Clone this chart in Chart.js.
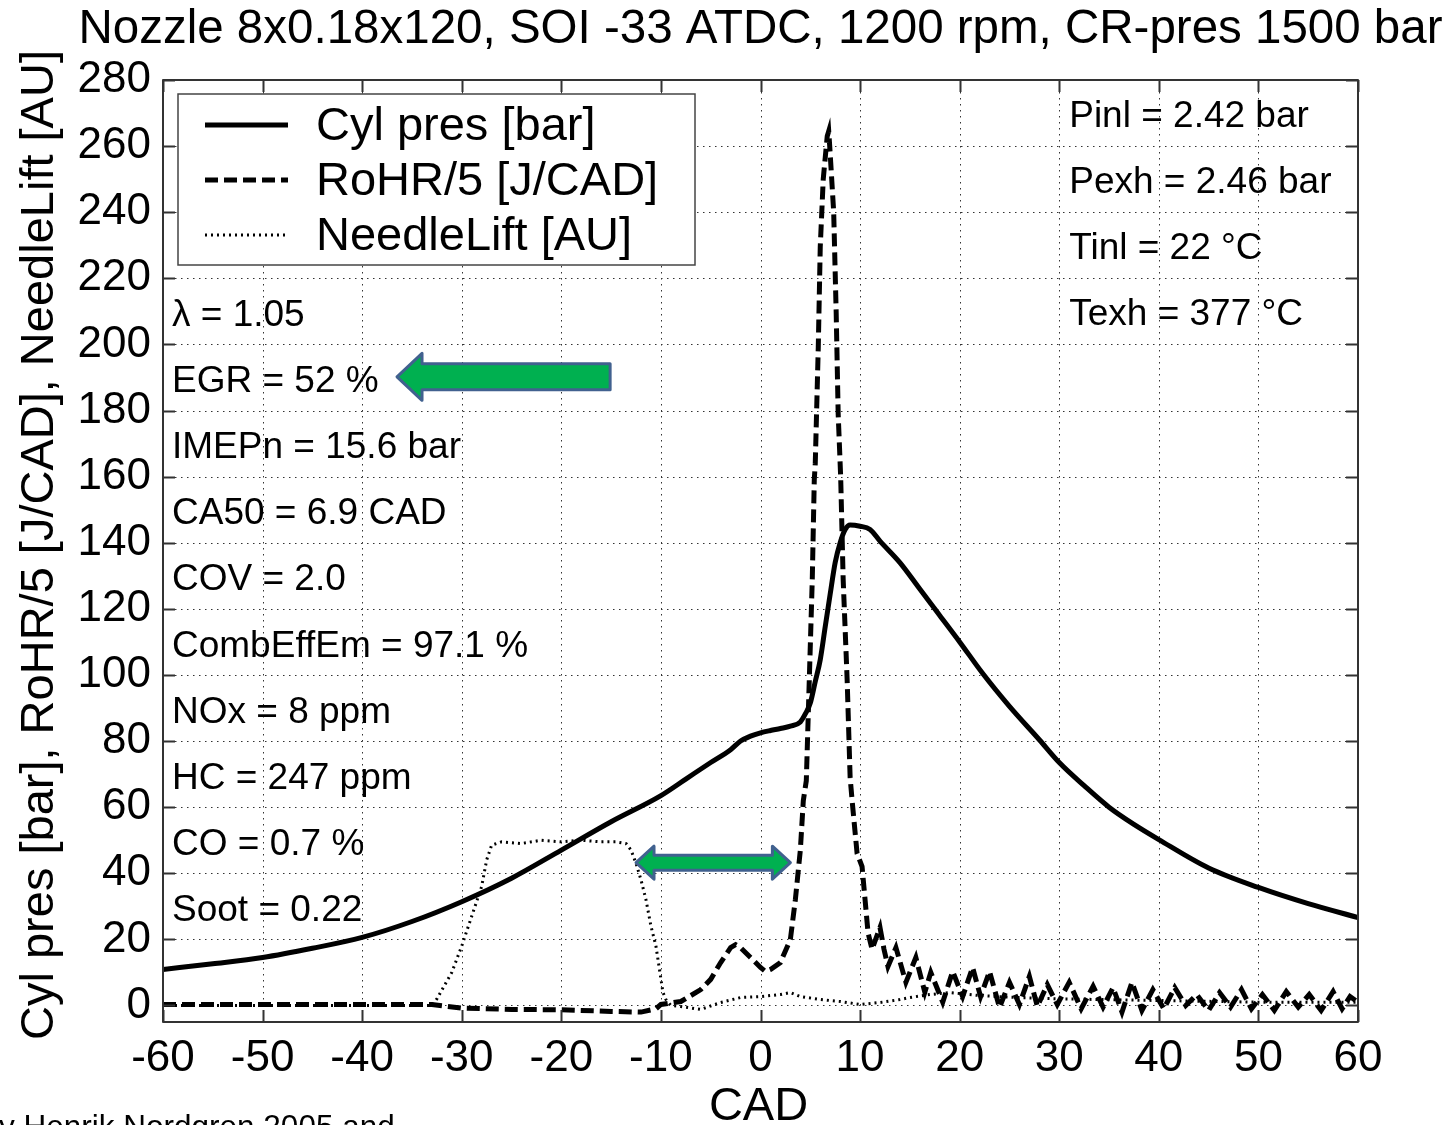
<!DOCTYPE html>
<html lang="en">
<head>
  <meta charset="UTF-8" />
  <title>Nozzle 8x0.18x120 - heat release</title>
  <script src="https://cdn.jsdelivr.net/npm/chart.js@4"></script>
  <style>
    html, body { margin: 0; padding: 0; background: #fff; overflow: hidden; }
    #wrap { position: relative; width: 1449px; height: 1125px; }
  </style>
</head>
<body>
<div id="wrap"><canvas id="chart"></canvas></div>
<script>
const FONT = '"Liberation Sans", Arial, sans-serif';

const titleText = 'Nozzle 8x0.18x120, SOI -33 ATDC, 1200 rpm, CR-pres 1500 bar';
const yTitle = 'Cyl pres [bar], RoHR/5 [J/CAD], NeedleLift [AU]';
const xTitle = 'CAD';
const footText = 'y Henrik Nordgren 2005 and';

const cadTicks = [-60, -50, -40, -30, -20, -10, 0, 10, 20, 30, 40, 50, 60];
const valueTicks = [0, 20, 40, 60, 80, 100, 120, 140, 160, 180, 200, 220, 240, 260, 280];

const seriesNames = ['Cyl pres [bar]', 'RoHR/5 [J/CAD]', 'NeedleLift [AU]'];

// cylinder pressure
const cylCad = [-60, -55, -50, -45, -40, -35, -30, -25, -20, -15, -10, -7.5, -5, -3, -2, -1, 0, 1, 2, 3, 4,
  4.5, 5, 5.5, 6, 6.5, 7, 7.5, 8, 8.5, 9, 10, 11, 12, 14, 16, 18, 20, 22.3, 25, 28, 30, 32.5, 35, 37.5,
  40, 45, 50, 55, 60];
const cylPres = [10.9, 12.6, 14.5, 17.3, 20.6, 25.4, 31.4, 38.5, 47, 55.6, 63.5, 68.5, 73.5, 77.4, 80, 81.5,
  82.5, 83.2, 83.8, 84.5, 85.8, 88.2, 91.5, 98, 104.6, 114.6, 124.5, 134, 140, 144, 145.4, 145, 144, 140.5,
  134, 126, 118, 110, 100.5, 90.5, 80.4, 73.5, 66.5, 60, 54.8, 50.2, 41.6, 35.7, 30.8, 26.6];

// rate of heat release / 5
const rohrCad = [-60, -50, -40, -33, -30, -25, -20, -15, -12, -10.5, -10, -8, -6, -5, -4, -3, -2.5, -2, -1, 0,
  0.5, 1, 2, 3, 3.5, 4, 4.3, 4.6, 4.9, 5.2, 5.4, 5.5, 5.8, 6.0, 6.3, 6.7, 6.85, 6.95, 7.35, 7.6, 7.8, 8.05,
  8.3, 8.7, 9.0, 9.2, 9.7, 10.2, 10.5, 10.8, 11.2, 12.0, 12.4, 12.8, 13.6, 14.6, 15.6, 16.5, 17.1, 18.3,
  19.3, 20.3, 21.3, 22.1, 23.0, 24.0, 25.0, 26.0, 27.0, 27.8, 28.8, 29.8, 31.0, 32.2, 33.4, 34.4, 35.4,
  36.3, 37.3, 38.3, 39.4, 40.5, 41.6, 42.7, 43.8, 45.0, 46.1, 47.2, 48.3, 49.3, 50.4, 51.6, 52.8, 54.0,
  55.1, 56.3, 57.5, 58.4, 59.2, 60];
const rohrVal = [0.3, 0.3, 0.3, 0.3, -0.8, -1.2, -1.3, -1.8, -2, -1, 0.3, 1.2, 4.8, 7.9, 13, 17.5, 18.4, 17.5,
  14.5, 11.5, 10.3, 10.9, 13, 20, 32, 47, 62, 68, 98.6, 129, 159, 164, 199, 229.5, 250, 263, 264.5, 260, 240,
  209.6, 179, 160, 129, 98.6, 69, 62, 46, 42, 32, 22, 17, 23.6, 17, 11.8, 17.5, 7, 14.5, 4, 10, 1,
  10.3, 2.7, 11.5, 2.7, 10.3, -0.6, 7, 0.3, 8.8, -0.3, 6.3, 0.3, 7, -1, 5.8, -0.5, 5.4,
  -2, 7, -1.5, 4.8, -1, 5.4, 0, 3.3, -1.5, 3.9, -0.5, 4.8, -1, 3.3, -1.5, 4.2, -0.5,
  3.3, -1.5, 4.2, -1, 2.7, 1];

// needle lift
const needleCad = [-60, -33, -32.5, -31, -30, -29, -28, -27.5, -27, -26, -24, -22, -20, -18, -16, -14.5, -13.5,
  -13, -12.5, -12, -11.5, -11, -10.5, -10.2, -10, -9.8, -9.5, -9, -8, -6, -4, -2, 0, 2, 3, 4, 6, 8, 10, 12,
  14, 15, 17, 19, 22, 25, 30, 40, 50, 60];
const needleVal = [0, 0, 2, 10, 18, 27, 36, 44, 48.5, 49.5, 49, 50, 49.5, 50, 49.5, 49.5, 49,
  47, 43, 38, 32, 24, 18, 12, 8, 4, 1.8, 0, -0.3, -1.2, 0.9, 2.4, 2.7, 3.3, 3.9, 2.7, 1.8, 1.2, 0.3, 0.9,
  1.8, 2.4, 3.3, 3.9, 3, 2.5, 2, 1.5, 1, 1];

const leftNotes = ['\u03bb = 1.05', 'EGR = 52 %', 'IMEPn = 15.6 bar', 'CA50 = 6.9 CAD', 'COV = 2.0',
  'CombEffEm = 97.1 %', 'NOx = 8 ppm', 'HC = 247 ppm', 'CO = 0.7 %', 'Soot = 0.22'];
const rightNotes = ['Pinl = 2.42 bar', 'Pexh = 2.46 bar', 'Tinl = 22 \u00b0C', 'Texh = 377 \u00b0C'];

function toPoints(xs, ys) {
  return xs.map((x, i) => ({ x, y: ys[i] }));
}

const datasets = [
  { label: seriesNames[0], data: toPoints(cylCad, cylPres), borderColor: '#000', borderWidth: 5,
    borderDash: [], cubicInterpolationMode: 'monotone' },
  { label: seriesNames[1], data: toPoints(rohrCad, rohrVal), borderColor: '#000', borderWidth: 5,
    borderDash: [13, 6], tension: 0 },
  { label: seriesNames[2], data: toPoints(needleCad, needleVal), borderColor: '#000', borderWidth: 3,
    borderDash: [2, 4], tension: 0 }
];

function drawArrow(ctx, tipL, tipR, yc, headLen, headHalf, shaftHalf, both) {
  ctx.beginPath();
  ctx.moveTo(tipL, yc);
  ctx.lineTo(tipL + headLen, yc - headHalf);
  ctx.lineTo(tipL + headLen, yc - shaftHalf);
  if (both) {
    ctx.lineTo(tipR - headLen, yc - shaftHalf);
    ctx.lineTo(tipR - headLen, yc - headHalf);
    ctx.lineTo(tipR, yc);
    ctx.lineTo(tipR - headLen, yc + headHalf);
    ctx.lineTo(tipR - headLen, yc + shaftHalf);
  } else {
    ctx.lineTo(tipR, yc - shaftHalf);
    ctx.lineTo(tipR, yc + shaftHalf);
  }
  ctx.lineTo(tipL + headLen, yc + shaftHalf);
  ctx.lineTo(tipL + headLen, yc + headHalf);
  ctx.closePath();
  ctx.fillStyle = '#00b050';
  ctx.fill();
  ctx.lineJoin = 'round';
  ctx.lineWidth = 3;
  ctx.strokeStyle = '#41618f';
  ctx.stroke();
}

const matlabFrame = {
  id: 'matlabFrame',
  beforeDatasetsDraw(chart) {
    const { ctx, chartArea: a, scales: { x, y } } = chart;
    ctx.save();
    ctx.strokeStyle = '#333';
    ctx.lineWidth = 1;
    ctx.setLineDash([1.5, 4.5]);
    ctx.beginPath();
    cadTicks.forEach(v => {
      const px = Math.round(x.getPixelForValue(v)) + 0.5;
      ctx.moveTo(px, a.top);
      ctx.lineTo(px, a.bottom);
    });
    valueTicks.forEach(v => {
      const py = Math.round(y.getPixelForValue(v)) + 0.5;
      ctx.moveTo(a.left, py);
      ctx.lineTo(a.right, py);
    });
    ctx.stroke();
    ctx.restore();
  },
  afterDatasetsDraw(chart) {
    const { ctx, chartArea: a, scales: { x, y } } = chart;
    ctx.save();

    // legend box
    const lx = 178, ly = 94, lw = 517, lh = 171;
    ctx.fillStyle = '#fff';
    ctx.fillRect(lx, ly, lw, lh);
    ctx.strokeStyle = '#444';
    ctx.lineWidth = 1.5;
    ctx.strokeRect(lx, ly, lw, lh);
    ctx.font = '47px ' + FONT;
    ctx.textBaseline = 'middle';
    ctx.textAlign = 'left';
    chart.data.datasets.forEach((ds, i) => {
      const yy = ly + 31 + i * 55;
      ctx.beginPath();
      ctx.setLineDash(ds.borderDash);
      ctx.lineWidth = ds.borderWidth;
      ctx.strokeStyle = '#000';
      ctx.moveTo(lx + 27, yy);
      ctx.lineTo(lx + 110, yy);
      ctx.stroke();
      ctx.setLineDash([]);
      ctx.fillStyle = '#000';
      ctx.fillText(ds.label, lx + 138, yy + 2);
    });

    // notes
    ctx.font = '37px ' + FONT;
    ctx.textBaseline = 'alphabetic';
    ctx.fillStyle = '#000';
    leftNotes.forEach((t, i) => {
      const py = y.getPixelForValue(209.5 - 20 * i) + 13;
      ctx.fillText(t, a.left + 9, py);
    });
    rightNotes.forEach((t, i) => {
      const py = y.getPixelForValue(270 - 20 * i) + 14;
      ctx.fillText(t, x.getPixelForValue(31.0), py);
    });

    // arrows
    drawArrow(ctx, x.getPixelForValue(-36.5), x.getPixelForValue(-15.1), y.getPixelForValue(190.2), 25, 23.5, 13, false);
    drawArrow(ctx, x.getPixelForValue(-12.5), x.getPixelForValue(3.0), y.getPixelForValue(43.2), 18, 16.5, 7.5, true);

    // axes box and inward ticks
    ctx.strokeStyle = '#333';
    ctx.lineWidth = 2;
    ctx.strokeRect(a.left, a.top, a.right - a.left, a.bottom - a.top);
    ctx.beginPath();
    const tl = 12;
    cadTicks.forEach(v => {
      const px = Math.round(x.getPixelForValue(v)) + 0.5;
      ctx.moveTo(px, a.bottom); ctx.lineTo(px, a.bottom - tl);
      ctx.moveTo(px, a.top); ctx.lineTo(px, a.top + tl);
    });
    valueTicks.forEach(v => {
      const py = Math.round(y.getPixelForValue(v)) + 0.5;
      ctx.moveTo(a.left, py); ctx.lineTo(a.left + tl, py);
      ctx.moveTo(a.right, py); ctx.lineTo(a.right - tl, py);
    });
    ctx.stroke();

    // titles
    ctx.fillStyle = '#000';
    ctx.textAlign = 'center';
    ctx.font = '47.5px ' + FONT;
    ctx.fillText(titleText, (a.left + a.right) / 2, 43);
    ctx.font = '47px ' + FONT;
    ctx.fillText(xTitle, (a.left + a.right) / 2 - 2, 1120);
    ctx.save();
    ctx.translate(53, (a.top + a.bottom) / 2 - 6);
    ctx.rotate(-Math.PI / 2);
    ctx.fillText(yTitle, 0, 0);
    ctx.restore();
    ctx.textAlign = 'left';
    ctx.font = '31.5px ' + FONT;
    ctx.fillText(footText, -1, 1137);
    ctx.restore();
  }
};

new Chart(document.getElementById('chart'), {
  type: 'line',
  data: { datasets },
  plugins: [matlabFrame],
  options: {
    responsive: true,
    maintainAspectRatio: false,
    animation: false,
    devicePixelRatio: 1,
    events: [],
    layout: { padding: { top: 80, right: 91, left: 0, bottom: 0 } },
    elements: { point: { radius: 0 }, line: { fill: false, borderCapStyle: 'butt' } },
    plugins: { legend: { display: false }, title: { display: false }, tooltip: { enabled: false } },
    scales: {
      x: {
        type: 'linear',
        min: -60,
        max: 60,
        afterBuildTicks: s => { s.ticks = cadTicks.map(v => ({ value: v })); },
        afterFit: s => { s.height = 103; },
        grid: { display: false, drawTicks: false },
        border: { display: false },
        ticks: { color: '#000', padding: 10, font: { family: FONT, size: 44 }, maxRotation: 0, autoSkip: false }
      },
      y: {
        type: 'linear',
        min: -5,
        max: 280,
        afterBuildTicks: s => { s.ticks = valueTicks.map(v => ({ value: v })); },
        afterFit: s => { s.width = 163; },
        grid: { display: false, drawTicks: false },
        border: { display: false },
        ticks: { color: '#000', padding: 12, font: { family: FONT, size: 44 }, autoSkip: false }
      }
    }
  }
});
</script>
</body>
</html>
